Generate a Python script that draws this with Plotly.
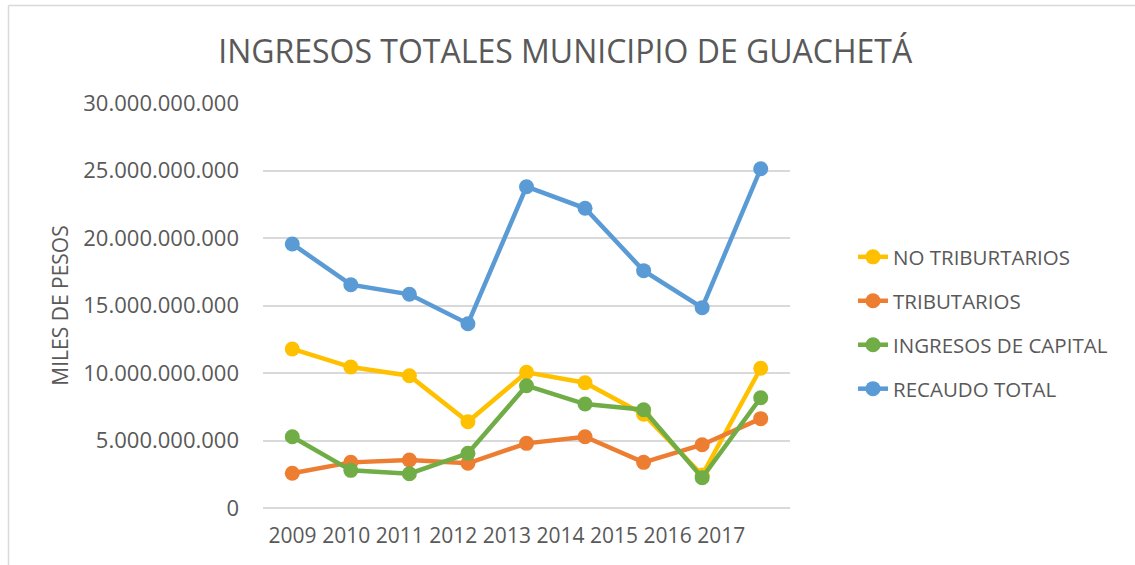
import plotly.graph_objects as go

years = ["2009", "2010", "2011", "2012", "2013", "2014", "2015", "2016", "2017"]
no_tributarios = [11.78e9, 10.44e9, 9.80e9, 6.39e9, 10.05e9, 9.28e9, 6.94e9, 2.44e9, 10.35e9]
tributarios = [2.57e9, 3.38e9, 3.56e9, 3.31e9, 4.79e9, 5.28e9, 3.38e9, 4.69e9, 6.62e9]
ingresos_capital = [5.28e9, 2.79e9, 2.54e9, 4.05e9, 9.06e9, 7.70e9, 7.28e9, 2.25e9, 8.17e9]
recaudo_total = [19.56e9, 16.54e9, 15.83e9, 13.65e9, 23.80e9, 22.20e9, 17.58e9, 14.84e9, 25.13e9]

series = [
    ("NO TRIBURTARIOS", no_tributarios, "#FFC000"),
    ("TRIBUTARIOS", tributarios, "#ED7D31"),
    ("INGRESOS DE CAPITAL", ingresos_capital, "#70AD47"),
    ("RECAUDO TOTAL", recaudo_total, "#5B9BD5"),
]

xpos = list(range(len(years)))
# labels in the original are packed slightly tighter than the points
label_step = 0.915
label_pos = [i * label_step + 0.005 for i in xpos]

TXT = "#595959"
FONT = "Open Sans"

fig = go.Figure()
for i, (name, vals, col) in enumerate(series):
    fig.add_trace(go.Scatter(
        x=xpos, y=vals, name=name, mode="lines+markers",
        line=dict(color=col, width=4.5),
        marker=dict(color=col, size=15),
        legendgroup=f"g{i}", cliponaxis=False,
    ))

W, H = 1135, 565
L, R, T, B = 263, 345, 103, 57
pw, ph = W - L - R, H - T - B

def px2paper_x(px):
    return (px - L) / pw

def px2paper_y(py):
    return (H - B - py) / ph

fig.update_layout(
    width=W, height=H,
    margin=dict(l=L, r=R, t=T, b=B),
    paper_bgcolor="white", plot_bgcolor="white",
    separators=",.",
    font=dict(family=FONT, color=TXT, size=21),
    title=dict(text="INGRESOS TOTALES MUNICIPIO DE GUACHETÁ",
               font=dict(family=FONT, size=32, color=TXT),
               x=0.498, xanchor="center", y=1 - 52 / H, yanchor="middle",
               xref="container", yref="container"),
    xaxis=dict(range=[-0.5, 8.5], tickmode="array", tickvals=label_pos, ticktext=years,
               showgrid=False, zeroline=False, showline=False,
               tickfont=dict(size=21, color=TXT), ticks="", ticklabelstandoff=13),
    yaxis=dict(range=[0, 30e9], tickmode="linear", tick0=0, dtick=5e9,
               tickformat=",.0f", showgrid=True, gridcolor="#D9D9D9", gridwidth=1.6,
               zeroline=True, zerolinecolor="#D9D9D9", zerolinewidth=1.6,
               showline=False, ticks="", tickfont=dict(size=22, color=TXT),
               ticklabelstandoff=23,
               title=dict(text="MILES DE PESOS", font=dict(size=21, color=TXT), standoff=8)),
    legend=dict(x=px2paper_x(853), xanchor="left", y=px2paper_y(237), yanchor="top",
                font=dict(size=20.5, color=TXT), tracegroupgap=14.3,
                bgcolor="rgba(0,0,0,0)"),
    showlegend=True,
)

# chart-area border (left and top edges only, as in the source image)
fig.add_shape(type="line", xref="paper", yref="paper",
              x0=px2paper_x(8.5), x1=px2paper_x(8.5), y0=px2paper_y(5.5), y1=px2paper_y(H + 5),
              line=dict(color="#D9D9D9", width=1.5))
fig.add_shape(type="line", xref="paper", yref="paper",
              x0=px2paper_x(8.5), x1=px2paper_x(W + 5), y0=px2paper_y(5.5), y1=px2paper_y(5.5),
              line=dict(color="#D9D9D9", width=1.5))

fig.write_html("out.html", config={"displayModeBar": False},
               post_script="document.body.style.margin='0';document.body.style.overflow='hidden';")
